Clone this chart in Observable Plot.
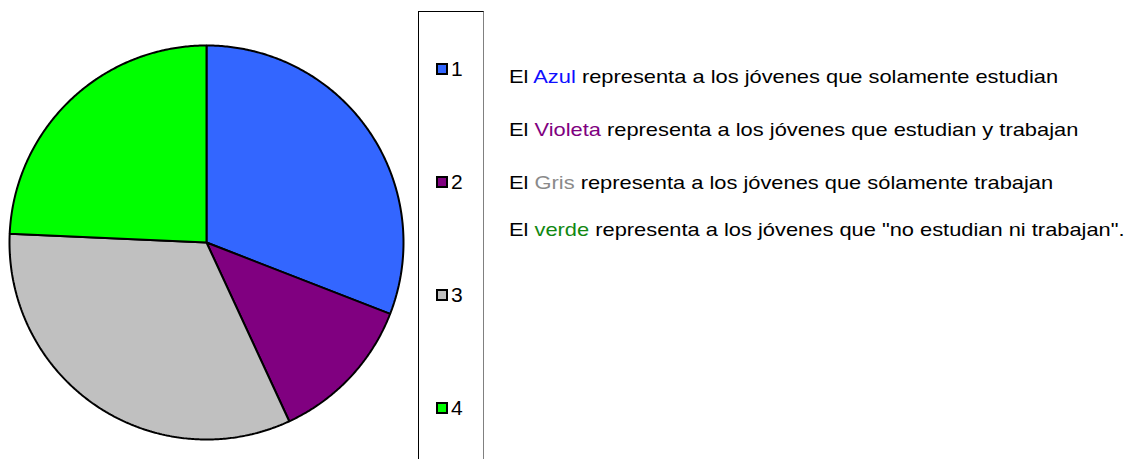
<!DOCTYPE html>
<html><head><meta charset="utf-8">
<script src="https://cdn.jsdelivr.net/npm/d3@7"></script>
<script src="https://cdn.jsdelivr.net/npm/@observablehq/plot@0.6"></script>
<style>
html,body{margin:0;padding:0;background:#fff;}
#wrap{position:relative;width:1129px;height:459px;overflow:hidden;font-family:"Liberation Sans",Arial,sans-serif;}
#chart{position:absolute;left:0;top:0;}
#legendBox{position:absolute;left:418px;top:11px;width:64px;height:470px;border-left:1px solid #000;border-top:1px solid #000;border-right:1px solid #808080;background:#fff;}
.sw{position:absolute;left:436px;width:12px;height:12px;box-sizing:border-box;border:2px solid #000;}
.lab{position:absolute;left:451px;font-size:21px;line-height:21px;color:#000;}
.note{position:absolute;left:509px;font-size:19px;line-height:20px;color:#000;white-space:nowrap;transform:scaleX(1.15);transform-origin:0 0;}
</style></head>
<body><div id="wrap"><div id="chart"></div><div id="legendBox"></div><div id="legend"></div><div id="notes"></div></div>
<script>
const categories = ["1", "2", "3", "4"];
const values = [30.9, 12.2, 32.6, 24.3];
const colors = ["#3366FF", "#800080", "#C0C0C0", "#00FF00"];
const noteWords = ["Azul", "Violeta", "Gris", "verde"];
const noteColors = ["#0f0fff", "#800080", "#8a8a8a", "#118811"];
const noteTexts = [
  "representa a los jóvenes que solamente estudian",
  "representa a los jóvenes que estudian y trabajan",
  "representa a los jóvenes que sólamente trabajan",
  "representa a los jóvenes que \"no estudian ni trabajan\"."
];

// Build slice polygons (unit circle, angle clockwise from north)
const total = d3.sum(values);
const rows = [];
let acc = 0;
categories.forEach((c, i) => {
  const a0 = acc / total * 2 * Math.PI;
  acc += values[i];
  const a1 = acc / total * 2 * Math.PI;
  rows.push({slice: c, x: 0, y: 0});
  const n = Math.max(2, Math.ceil((a1 - a0) / (Math.PI / 360)));
  for (let k = 0; k <= n; k++) {
    const a = a0 + (a1 - a0) * k / n;
    rows.push({slice: c, x: Math.sin(a), y: Math.cos(a)});
  }
  rows.push({slice: c, x: 0, y: 0});
});

const W = 1129, H = 459, cx = 206, cy = 242, R = 197;
const plot = Plot.plot({
  width: W, height: H,
  margin: 0,
  x: {domain: [-cx / R, (W - cx) / R], axis: null},
  y: {domain: [-(H - cy) / R, cy / R], axis: null},
  color: {type: "ordinal", domain: categories, range: colors, legend: false},
  marks: [
    Plot.line(rows, {x: "x", y: "y", z: "slice", fill: "slice", stroke: "#000", strokeWidth: 2, strokeLinejoin: "miter", curve: "linear"})
  ]
});
document.getElementById("chart").appendChild(plot);

// Legend
const legend = document.getElementById("legend");
const baselines = [76, 189, 302, 415];
categories.forEach((c, i) => {
  const s = document.createElement("div");
  s.className = "sw";
  s.style.top = (baselines[i] - 13) + "px";
  s.style.background = colors[i];
  legend.appendChild(s);
  const t = document.createElement("div");
  t.className = "lab";
  t.style.top = (baselines[i] - 17.8) + "px";
  t.textContent = c;
  legend.appendChild(t);
});

// Notes
const notes = document.getElementById("notes");
const noteTops = [67, 120, 173, 220];
noteWords.forEach((w, i) => {
  const d = document.createElement("div");
  d.className = "note";
  d.style.top = noteTops[i] + "px";
  d.innerHTML = 'El <span style="color:' + noteColors[i] + '">' + w + '</span> ' + noteTexts[i].replace(/"/g, "&quot;");
  notes.appendChild(d);
});
</script></body></html>
